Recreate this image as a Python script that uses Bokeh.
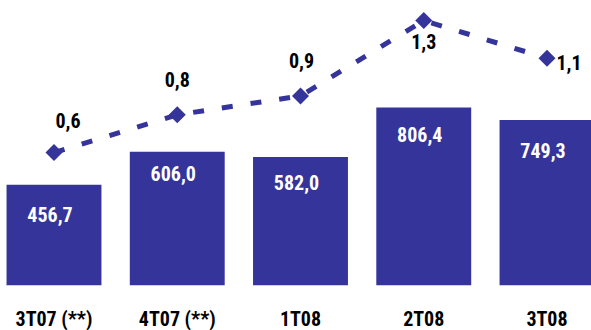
from bokeh.plotting import figure
from bokeh.models import ColumnDataSource, Range1d
from bokeh.core.properties import value
from bokeh.embed import file_html
from bokeh.resources import INLINE
import math

categories = ["3T07 (**)", "4T07 (**)", "1T08", "2T08", "3T08"]
bar_values = [456.7, 606.0, 582.0, 806.4, 749.3]
line_values = [0.6, 0.8, 0.9, 1.3, 1.1]

FONT = "Roboto Condensed"
COLOR = "#35349A"

xs = list(range(len(categories)))

bar_src = ColumnDataSource(dict(
    x=xs, top=bar_values,
    label=[f"{v:.1f}".replace(".", ",") for v in bar_values],
    dy=[30, 22, 25, 27, 30],
))
line_src = ColumnDataSource(dict(
    x=xs, y=line_values,
    label=[f"{v:.1f}".replace(".", ",") for v in line_values],
    dx=[14, 0, 1, 0, 22],
    dy=[-32, -35, -35, 21, 4],
))

p = figure(output_backend="svg", toolbar_location=None,
           frame_width=591, frame_height=285,
           x_range=Range1d(-0.434, 4.361), y_range=Range1d(0, 1291),
           min_border_left=0, min_border_right=0, min_border_top=0, min_border_bottom=45)
p.extra_y_ranges = {"ratio": Range1d(-0.105, 1.406)}

p.vbar(x="x", top="top", bottom=0, width=0.77, source=bar_src, color=COLOR, line_color=None)
p.text(x="x", y="top", text="label", source=bar_src, x_offset=-4, y_offset="dy",
       text_align="center", text_baseline="middle", text_color="white",
       text_font=value(FONT), text_font_style="bold", text_font_size="20px")

p.line(x="x", y="y", source=line_src, y_range_name="ratio", line_color=COLOR,
       line_width=5, line_dash="11 18")
p.scatter(x="x", y="y", source=line_src, y_range_name="ratio", marker="square",
          size=12, angle=math.pi / 4, color=COLOR, line_color=None)
p.text(x="x", y="y", text="label", source=line_src, y_range_name="ratio",
       x_offset="dx", y_offset="dy", text_align="center", text_baseline="middle",
       text_color="black", text_font=value(FONT), text_font_style="bold",
       text_font_size="20px")

p.xaxis.ticker = xs
p.xaxis.major_label_overrides = {i: c for i, c in enumerate(categories)}
p.xaxis.axis_line_color = None
p.xaxis.major_tick_line_color = None
p.xaxis.minor_tick_line_color = None
p.xaxis.major_tick_out = 0
p.xaxis.major_tick_in = 0
p.xaxis.major_label_standoff = 21
p.xaxis.major_label_text_font = FONT
p.xaxis.major_label_text_font_style = "bold"
p.xaxis.major_label_text_font_size = "20px"
p.xaxis.major_label_text_color = "black"
p.yaxis.visible = False
p.grid.visible = False
p.outline_line_color = None
p.background_fill_color = "white"
p.border_fill_color = "white"

open("out.html", "w").write(file_html(p, INLINE))
